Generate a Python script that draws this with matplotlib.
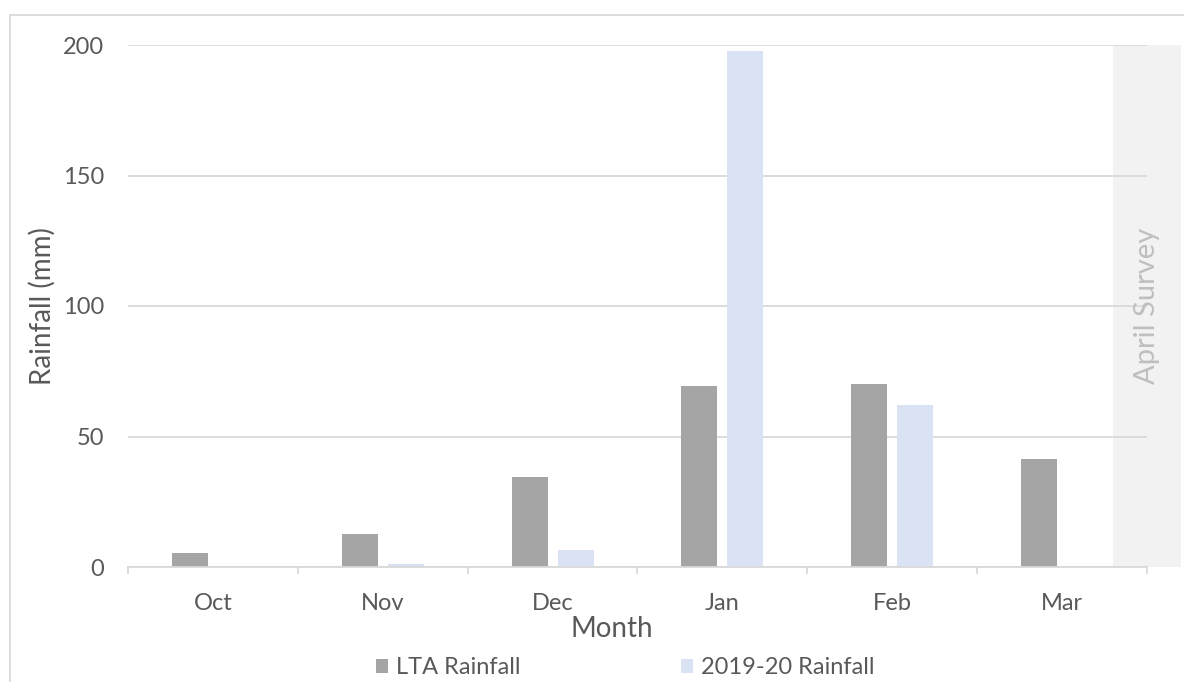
import matplotlib
matplotlib.use("Agg")
import numpy as np
import matplotlib.pyplot as plt
from matplotlib.lines import Line2D

# Monthly rainfall, long-term average vs the 2019-20 season
months = ["Oct", "Nov", "Dec", "Jan", "Feb", "Mar"]
lta_rain = [5.5, 12.5, 34.5, 69.3, 70.0, 41.5]
season_rain = [0.0, 1.2, 6.6, 197.8, 61.9, 0.0]
series_names = ["LTA Rainfall", "2019-20 Rainfall"]

# shaded column marking the survey month after March
survey_label = "April Survey"
survey_height = 200

plt.rcParams["font.family"] = ["Lato", "DejaVu Sans"]
txt = "#595959"
grid_c = "#D9D9D9"

fig = plt.figure(figsize=(11.84, 6.82), dpi=100)
ax = fig.add_axes([128 / 1184, 1 - 567 / 682, (1147 - 128) / 1184, (567 - 45) / 682])

x = np.arange(len(months))
w = 0.212
off = 0.135
b1 = ax.bar(x - off, lta_rain, w, color="#A5A5A5", zorder=2, label=series_names[0])
b2 = ax.bar(x + off, season_rain, w, color="#DAE3F3", zorder=2, label=series_names[1])

# survey band sits on the right edge of the plot, half outside it
ax.bar(len(months) - 0.5, survey_height, 0.4, color="#F2F2F2", zorder=0.2, clip_on=False)
ax.text(len(months) - 0.5, 100, survey_label, rotation=90, ha="center", va="center",
        fontsize=21, color="#BFBFBF", zorder=3)

ax.set_xlim(-0.5, len(months) - 0.5)
ax.set_ylim(0, 200)
ax.set_yticks([0, 50, 100, 150, 200])
ax.set_xticks(x)
ax.set_xticklabels(months)
ax.set_xticks(np.arange(len(months) + 1) - 0.5, minor=True)

ax.grid(axis="y", color=grid_c, linewidth=1.3)
ax.set_axisbelow(True)
for s in ["top", "right", "left"]:
    ax.spines[s].set_visible(False)
ax.spines["bottom"].set_color(grid_c)
ax.spines["bottom"].set_linewidth(1.3)

ax.tick_params(axis="y", length=0, pad=17, labelsize=17, labelcolor=txt)
ax.tick_params(axis="x", which="major", length=0, pad=19, labelsize=17, labelcolor=txt)
ax.tick_params(axis="x", which="minor", length=5, width=1.3, color=grid_c)

ax.set_ylabel("Rainfall (mm)", fontsize=20, color=txt, labelpad=5)
fig.text(612 / 1184, 1 - 629 / 682, "Month", ha="center", va="center", fontsize=20, color=txt)

fig.legend(handles=[b1, b2], loc="center left", bbox_to_anchor=(376 / 1184, 1 - 668 / 682),
           ncol=2, frameon=False, fontsize=17, labelcolor=txt,
           handlelength=0.5, handleheight=0.5, handletextpad=0.35, columnspacing=6.8,
           borderaxespad=0, borderpad=0)

# thin chart-area border on the left and top
fig.add_artist(Line2D([10 / 1184, 10 / 1184], [0, 1 - 15 / 682], color=grid_c, lw=1.3))
fig.add_artist(Line2D([10 / 1184, 1], [1 - 15 / 682, 1 - 15 / 682], color=grid_c, lw=1.3))

fig.savefig("out.png", dpi=100, facecolor="white")
